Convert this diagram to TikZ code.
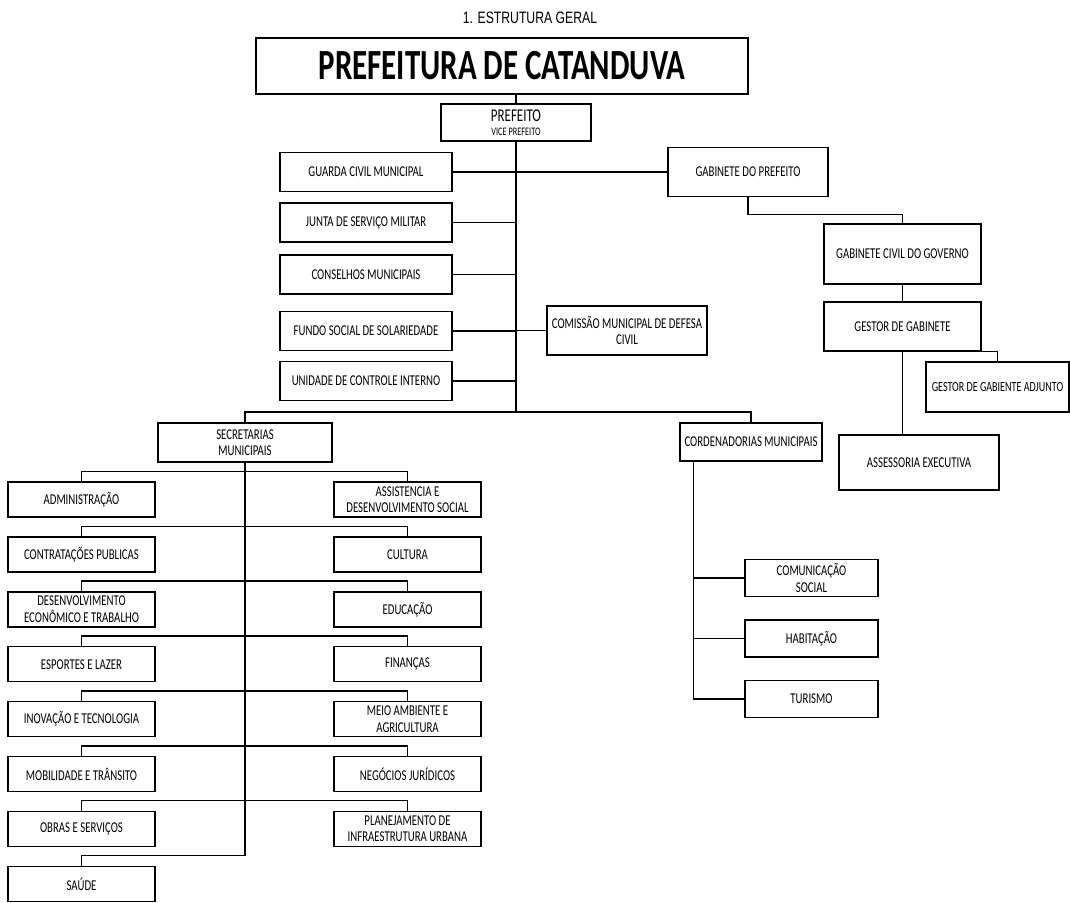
\documentclass[tikz,border=0pt]{standalone}
\usepackage{fontspec}
\setmainfont{Carlito}[FakeStretch=0.72]
\newfontfamily\headfont{Liberation Sans}[FakeStretch=0.74]
\usetikzlibrary{positioning,calc}

\begin{document}
\begin{tikzpicture}[x=1pt,y=-1pt,
every node/.style = {
	draw=black, line width=1.4pt,
	align=center, inner sep=1pt,
	font=\fontsize{15}{16.5}\selectfont
	},
lcol/.style = {minimum width=172pt, minimum height=39pt},
scol/.style = {minimum width=147pt, minimum height=35pt},
ccol/.style = {minimum width=133pt, minimum height=37pt},
conn/.style = {line width=1.4pt}
]
\path[fill=white] (0,0) rectangle (1070,890);
\node[draw=none,font=\headfont\fontsize{16.5}{18}\selectfont] (Tit) at (530,18) {1. ESTRUTURA GERAL};
\node[minimum width=492pt,minimum height=56pt,
	font=\bfseries\fontsize{43}{45}\selectfont] (PC) at (502,66) {PREFEITURA DE CATANDUVA};
\node[minimum width=150pt,minimum height=37pt] (PREF) at (516,122.5)
	{{\fontsize{18}{18}\selectfont PREFEITO}\\[-2pt]{\fontsize{11.5}{12}\selectfont VICE PREFEITO}};
% orgaos ligados ao prefeito
\node[lcol] (GCM) at (366,172) {GUARDA CIVIL MUNICIPAL};
\node[lcol] (JSM) at (366,222.5) {JUNTA DE SERVIÇO MILITAR};
\node[lcol] (CM) at (366,274.5) {CONSELHOS MUNICIPAIS};
\node[lcol] (FSS) at (366,331) {FUNDO SOCIAL DE SOLARIEDADE};
\node[lcol] (UCI) at (366,381) {UNIDADE DE CONTROLE INTERNO};
\node[minimum width=160pt,minimum height=49pt] (CMDC) at (627,330.5)
	{COMISSÃO MUNICIPAL DE DEFESA\\CIVIL};
% gabinete
\node[minimum width=160pt,minimum height=49pt] (GAB) at (748,172) {GABINETE DO PREFEITO};
\node[minimum width=157pt,minimum height=60pt] (GCG) at (902.5,254) {GABINETE CIVIL DO GOVERNO};
\node[minimum width=157pt,minimum height=49pt] (GG) at (902.5,326.5) {GESTOR DE GABINETE};
\node[minimum width=143pt,minimum height=50pt,
	font=\fontsize{14}{15}\selectfont] (GGA) at (997.5,387) {GESTOR DE GABIENTE ADJUNTO};
\node[minimum width=160pt,minimum height=55pt] (AE) at (919,462.5) {ASSESSORIA EXECUTIVA};
% secretarias
\node[minimum width=174pt,minimum height=39pt] (SEC) at (245,442.5) {SECRETARIAS\\MUNICIPAIS};
\node[scol] (ADM) at (81.5,499.5) {ADMINISTRAÇÃO};
\node[scol,below=18.5pt of ADM] (CTP) {CONTRATAÇÕES PUBLICAS};
\node[scol,below=18.5pt of CTP] (DET) {DESENVOLVIMENTO\\ECONÔMICO E TRABALHO};
\node[scol,below=18.5pt of DET] (ESL) {ESPORTES E LAZER};
\node[scol,below=18.5pt of ESL] (INT) {INOVAÇÃO E TECNOLOGIA};
\node[scol,below=18.5pt of INT] (MOT) {MOBILIDADE E TRÂNSITO};
\node[scol,below=18.5pt of MOT] (OBS) {OBRAS E SERVIÇOS};
\node[scol,below=18.5pt of OBS] (SAU) {SAÚDE};
\node[scol] (ASD) at (407.5,499.5) {ASSISTENCIA E\\DESENVOLVIMENTO SOCIAL};
\node[scol,below=18.5pt of ASD] (CUL) {CULTURA};
\node[scol,below=18.5pt of CUL] (EDU) {EDUCAÇÃO};
\node[scol,below=18.5pt of EDU] (FIN) {FINANÇAS};
\node[scol,below=18.5pt of FIN] (MAA) {MEIO AMBIENTE E\\AGRICULTURA};
\node[scol,below=18.5pt of MAA] (NJU) {NEGÓCIOS JURÍDICOS};
\node[scol,below=18.5pt of NJU] (PIU) {PLANEJAMENTO DE\\INFRAESTRUTURA URBANA};
% cordenadorias
\node[minimum width=142pt,minimum height=38pt] (COR) at (751,442) {CORDENADORIAS MUNICIPAIS};
\node[ccol] (COM) at (811.5,578) {COMUNICAÇÃO\\SOCIAL};
\node[ccol,below=22pt of COM] (HAB) {HABITAÇÃO};
\node[ccol,below=22pt of HAB] (TUR) {TURISMO};

\coordinate (bar) at (516,412);
\coordinate (sb) at ($(SAU.north)+(0,-10)$);
\coordinate (cv) at ($(COR.south west)+(14,0)$);
\draw[conn] (PC.south -| PREF.north) -- (PREF.north);
\draw[conn] (PREF.south) -- (PREF.south |- bar);
\draw[conn] (GCM.east) -- (GAB.west);
\foreach \n in {JSM,CM,FSS,UCI}
	\draw[conn] (\n.east) -- (\n.east -| bar);
\draw[conn] (CMDC.west) -- (CMDC.west -| bar);
\draw[conn] (SEC.north) |- (bar) -| (COR.north);
\draw[conn] (GAB.south) -- ++(0,17) -| (GCG.north);
\draw[conn] (GCG.south) -- (GG.north);
\draw[conn] (GG.south east) -| (GGA.north);
\draw[conn] (GG.south) -- (GG.south |- AE.north);
\draw[conn] (SEC.south) -- (SEC.south |- sb) -| (SAU.north);
\foreach \l/\r in {ADM/ASD,CTP/CUL,DET/EDU,ESL/FIN,INT/MAA,MOT/NJU,OBS/PIU}
	\draw[conn] (\l.north) -- ++(0,-10) -| (\r.north);
\draw[conn] (cv) |- (TUR.west);
\draw[conn] (COM.west) -- (COM.west -| cv);
\draw[conn] (HAB.west) -- (HAB.west -| cv);
\end{tikzpicture}
\end{document}
